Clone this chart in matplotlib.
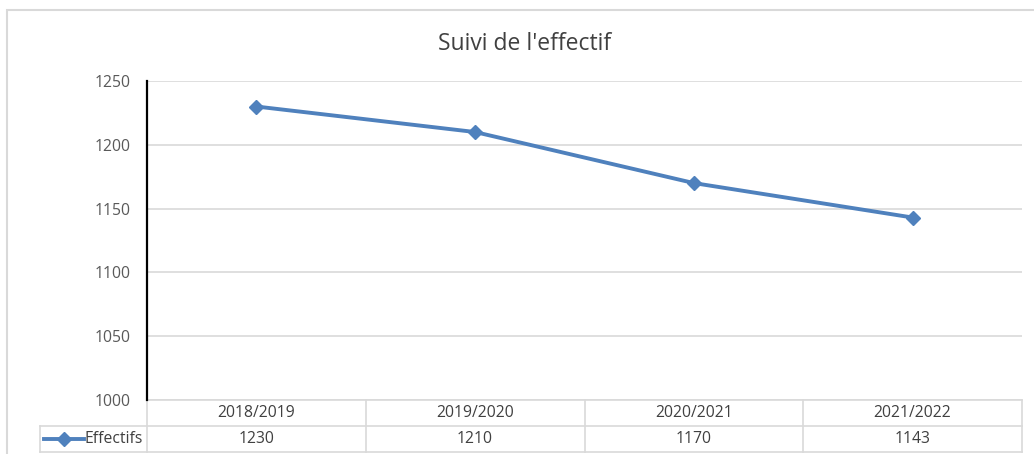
import matplotlib
matplotlib.use("Agg")
import matplotlib.pyplot as plt
from matplotlib.patches import Rectangle
from matplotlib.lines import Line2D
import matplotlib.transforms as mtransforms

categories = ["2018/2019", "2019/2020", "2020/2021", "2021/2022"]
values = [1230, 1210, 1170, 1143]
series_name = "Effectifs"
title = "Suivi de l'effectif"
yticks = [1000, 1050, 1100, 1150, 1200, 1250]

plt.rcParams['font.family'] = ['Open Sans', 'DejaVu Sans']

W, H = 1034, 454
fig = plt.figure(figsize=(W / 100, H / 100), dpi=100)
fig.patch.set_facecolor('white')

def fx(px):
    return px / W

def fy(py):
    return 1 - py / H

# outer chart border
fig.add_artist(Rectangle((fx(7), fy(470)), fx(1040) - fx(7), fy(10) - fy(470),
                         transform=fig.transFigure, fill=False,
                         edgecolor='#d9d9d9', linewidth=1.5))

ax = fig.add_axes([fx(147), fy(400), fx(1022) - fx(147), fy(81) - fy(400)])
line_color = '#4F81BD'
grid_color = '#d9d9d9'
text_color = '#595959'
table_text = '#404040'

x = list(range(len(categories)))
ax.plot(x, values, color=line_color, linewidth=2.8, marker='D', markersize=7,
        markeredgecolor=line_color, markerfacecolor=line_color, zorder=3)

ax.set_xlim(-0.5, len(categories) - 0.5)
ax.set_ylim(yticks[0], yticks[-1])
ax.set_yticks(yticks)
ax.set_yticklabels([str(v) for v in yticks], fontsize=11.3, color=text_color)
ax.tick_params(axis='y', length=0, pad=11.5)
ax.set_xticks([])
ax.yaxis.grid(True, color=grid_color, linewidth=1.2)
ax.set_axisbelow(True)
for s in ['top', 'right', 'bottom']:
    ax.spines[s].set_visible(False)
ax.spines['left'].set_color('black')
ax.spines['left'].set_linewidth(1.6)

fig.text(fx(525), fy(44), title, ha='center', va='center', fontsize=16.5, color='#404040')

# data table below
trans = mtransforms.blended_transform_factory(ax.transData, ax.transAxes)
ah = 319.0
row_h = 26.0 / ah
n = len(categories)
tbl_kw = dict(color=grid_color, linewidth=1.2, clip_on=False)
# horizontal lines
ax.plot([-0.5, n - 0.5], [0, 0], transform=trans, **tbl_kw)
left_ax = (40 - 147) / 875.0
axt = ax.transAxes
ax.plot([left_ax, 1], [-row_h, -row_h], transform=axt, **tbl_kw)
ax.plot([left_ax, 1], [-2 * row_h, -2 * row_h], transform=axt, **tbl_kw)
# vertical lines
for i in range(n + 1):
    ax.plot([i - 0.5, i - 0.5], [0, -2 * row_h], transform=trans, **tbl_kw)
ax.plot([left_ax, left_ax], [-row_h, -2 * row_h], transform=axt, **tbl_kw)

for i, (c, v) in enumerate(zip(categories, values)):
    ax.text(i, -row_h / 2, c, transform=trans, ha='center', va='center',
            fontsize=11.3, color=table_text)
    ax.text(i, -1.5 * row_h, str(v), transform=trans, ha='center', va='center',
            fontsize=11.3, color=table_text)

# legend key in table
lx0 = (44 - 147) / 875.0
lx1 = (84 - 147) / 875.0
ax.add_line(Line2D([lx0, lx1], [-1.5 * row_h] * 2, transform=axt, color=line_color,
                   linewidth=2.8, clip_on=False))
ax.add_line(Line2D([(lx0 + lx1) / 2], [-1.5 * row_h], transform=axt, color=line_color,
                   marker='D', markersize=7, linestyle='none', clip_on=False))
ax.text((85 - 147) / 875.0, -1.5 * row_h, series_name, transform=axt, ha='left',
        va='center', fontsize=11.3, color=table_text)

fig.savefig("out.png", dpi=100, facecolor='white')
